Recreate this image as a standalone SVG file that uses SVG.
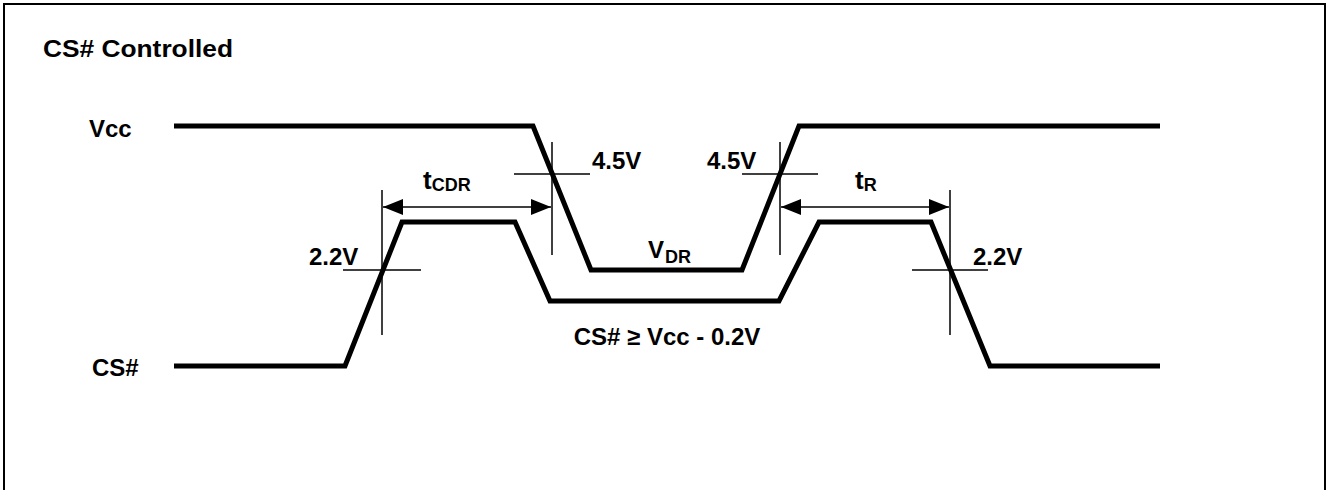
<svg xmlns="http://www.w3.org/2000/svg" width="1327" height="490" viewBox="0 0 1327 490">
<style>
text{font-family:"Liberation Sans",Arial,sans-serif;font-weight:bold;fill:#000}
.sig{fill:none;stroke:#000;stroke-width:5;stroke-linejoin:miter}
.thin{fill:none;stroke:#000;stroke-width:1.5}
.lbl{font-size:24px}
</style>
<defs>
<marker id="ah" viewBox="0 0 20 16" refX="20" refY="8" markerWidth="20" markerHeight="16" markerUnits="userSpaceOnUse" orient="auto-start-reverse">
<path d="M0,0 L20,8 L0,16 Z" fill="#000"/>
</marker>
</defs>
<rect x="4" y="4" width="1321" height="490" fill="#fff" stroke="#000" stroke-width="2"/>
<g id="title"><text x="43" y="57" font-size="24" textLength="190" lengthAdjust="spacingAndGlyphs">CS# Controlled</text></g>
<g id="vcc-label"><text class="lbl" x="89" y="137">Vcc</text></g>
<g id="cs-label"><text class="lbl" x="92" y="376">CS#</text></g>
<g id="connectors">
<polyline id="vcc" class="sig" points="174,126 533,126 591,270 742,270 799,126 1160,126"/>
<polyline id="cs" class="sig" points="174,366 345,366 402,222 515,222 550,301 779,301 819,222 931,222 990,366 1160,366"/>
<g id="cross-22-left"><line class="thin" x1="382" y1="190" x2="382" y2="335"/><line class="thin" x1="343" y1="270" x2="421" y2="270"/></g>
<g id="cross-45-left"><line class="thin" x1="552" y1="142" x2="552" y2="255"/><line class="thin" x1="514" y1="174" x2="590" y2="174"/></g>
<g id="cross-45-right"><line class="thin" x1="780" y1="142" x2="780" y2="255"/><line class="thin" x1="742" y1="174" x2="818" y2="174"/></g>
<g id="cross-22-right"><line class="thin" x1="950" y1="190" x2="950" y2="335"/><line class="thin" x1="912" y1="270" x2="988" y2="270"/></g>
<line id="tcdr-arrow" class="thin" x1="383" y1="207" x2="551" y2="207" marker-start="url(#ah)" marker-end="url(#ah)"/>
<line id="tr-arrow" class="thin" x1="781" y1="207" x2="949" y2="207" marker-start="url(#ah)" marker-end="url(#ah)"/>
</g>
<g id="labels">
<text class="lbl" x="309" y="265">2.2V</text>
<text class="lbl" x="592" y="169">4.5V</text>
<text class="lbl" x="707" y="169">4.5V</text>
<text class="lbl" x="973" y="265">2.2V</text>
<text x="423" y="189" font-size="26">t<tspan font-size="18" dy="2">CDR</tspan></text>
<text x="855" y="189" font-size="26">t<tspan font-size="18" dy="2">R</tspan></text>
<text x="648" y="258" font-size="24">V<tspan font-size="18" dy="5" dx="1">DR</tspan></text>
<text x="667" y="345" font-size="24" text-anchor="middle">CS# ≥ Vcc - 0.2V</text>
</g>
</svg>
